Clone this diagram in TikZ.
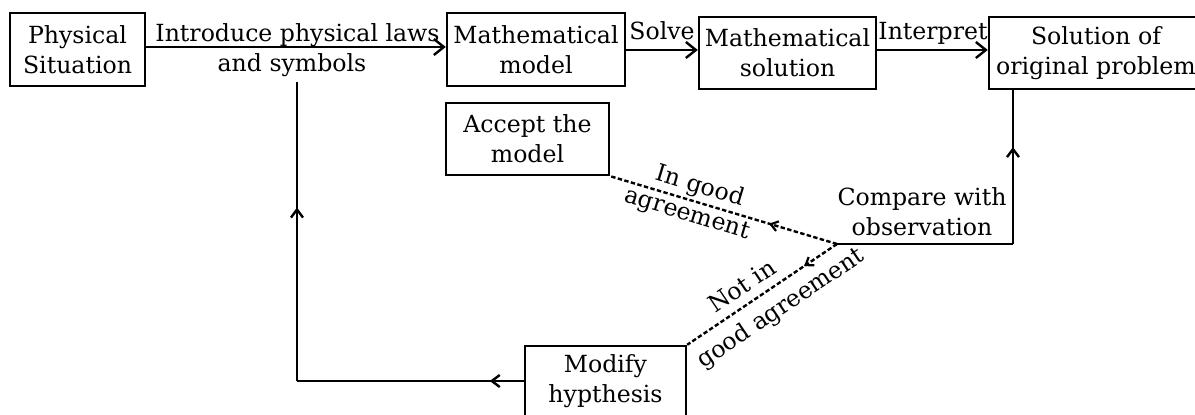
\documentclass[tikz,border=0pt]{standalone}
\usepackage{fontspec}
\setmainfont{DejaVu Serif}
\usetikzlibrary{arrows.meta,decorations.markings}
\begin{document}
\begin{tikzpicture}[x=0.5pt,y=-0.5pt,
  txt/.style={font=\fontsize{11.8}{15.2}\selectfont},
  box/.style={draw, line width=1.2pt, inner sep=0pt, align=center, txt},
  lbl/.style={inner sep=0pt, align=center, txt},
  conn/.style={line width=1.2pt, -{Straight Barb[length=5pt,width=8pt,line width=1.2pt]}},
  line/.style={line width=1.2pt},
  dline/.style={line width=1.2pt, dash pattern=on 2.2pt off 1.2pt},
  midarrow/.style={decoration={markings, mark=at position #1 with {\arrow{Straight Barb[length=4pt,width=6pt,line width=1.2pt]}}}, postaction={decorate}},
  dmidarrow/.style={decoration={markings, mark=at position #1 with {\arrow{Straight Barb[length=3.5pt,width=5pt,line width=1.1pt]}}}, postaction={decorate}}
]
\useasboundingbox (0,0) rectangle (1195,415);
\clip (0,0) rectangle (1195,415);

% boxes
\node[box, minimum width=67.5pt, minimum height=36.5pt] (phys) at (77.5,49.5) {Physical\\Situation};
\node[box, minimum width=89pt, minimum height=36.5pt] (mmod) at (536,49.5) {Mathematical\\model};
\node[box, minimum width=88.5pt, minimum height=36pt] (msol) at (787.5,53) {Mathematical\\solution};
\node[box, minimum width=107pt, minimum height=36pt] (sol) at (1096,53) {Solution of\\original problem};
\node[box, minimum width=81.5pt, minimum height=36pt] (acc) at (527.5,139) {Accept the\\model};
\node[box, minimum width=80.5pt, minimum height=35pt] (mod) at (605.5,381) {Modify\\hypthesis};

% top row arrows
\draw[conn] (phys.east |- 0,47) -- (mmod.west |- 0,47);
\draw[conn] (mmod.east |- 0,50) -- (msol.west |- 0,50);
\draw[conn] (msol.east |- 0,50) -- (sol.west |- 0,50);
\node[lbl, anchor=base] (l1) at (297.5,42) {Introduce physical laws};
\node[lbl, anchor=base] (l2) at (292,72) {and symbols};
\node[lbl, anchor=base] (l3) at (662,40) {Solve};
\node[lbl, anchor=base] (l4) at (933,40) {Interpret};

% compare
\node[lbl] (cmpt) at (922,212) {Compare with\\observation};
\coordinate (cmp) at (837,244);
\coordinate (cr) at (1013,244);
\draw[line] (cmp) -- (cr);
\draw[line, midarrow=0.63] (cr) -- (cr |- sol.south);

% dashed branches
\draw[dline, dmidarrow=0.3] (cmp) -- (acc.south east);
\draw[dline, dmidarrow=0.22] (cmp) -- (mod.north east);
\node[lbl, rotate=-16.8] (g1) at (700,187) {In good};
\node[lbl, rotate=-16.8] (g2) at (687,215) {agreement};
\node[lbl, rotate=34] (n1) at (742,286) {Not in};
\node[lbl, rotate=34] (n2) at (781,309) {good agreement};

% feedback loop
\coordinate (bl) at (297,381);
\coordinate (tp) at (297,82);
\draw[line, midarrow=0.15] (mod.west) -- (bl);
\draw[line, midarrow=0.58] (bl) -- (tp);
\end{tikzpicture}
\end{document}
